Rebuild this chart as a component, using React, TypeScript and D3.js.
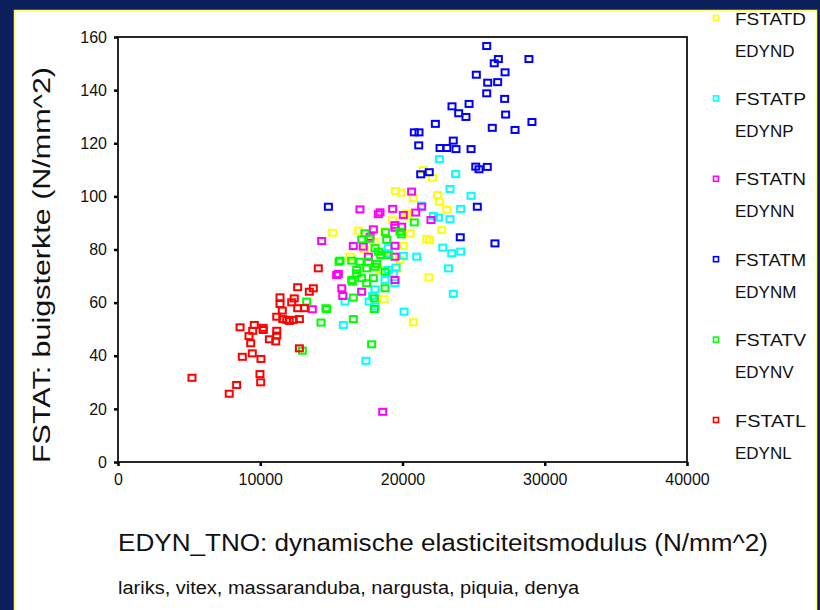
import React, { useEffect, useRef } from "react";
import * as d3 from "d3";

// tick values
const xTicks = [0, 10000, 20000, 30000, 40000];
const yTicks = [0, 20, 40, 60, 80, 100, 120, 140, 160];

// series order as in the legend (D, P, N, M, V, L)
const seriesKeys = ["D", "P", "N", "M", "V", "L"];
const seriesColors = ["#ffff00", "#00ffff", "#ff00ff", "#0000ff", "#00ff00", "#ff0000"];

// [EDYN, FSTAT] pairs
const pointsD = [
  [19500, 102], [19940, 101.4], [20760, 99.3], [21460, 109.9], [22100, 107], [22470, 100.5],
  [22590, 98], [23110, 94.9], [22750, 87.3], [21700, 84], [21900, 83.5], [20530, 86.1],
  [20300, 93.6], [20060, 81.4], [21860, 69.5], [18700, 61.3], [20760, 52.6], [19590, 72.9],
  [15090, 86.3], [16890, 87.1], [18420, 72.3], [18650, 77.9], [19820, 76.1], [16310, 77.3],
  [20410, 92.4], [18770, 86.7], [19300, 91], [17300, 80], [18000, 83],
];

const pointsP = [
  [22590, 114], [23740, 108.4], [23340, 102.8], [24820, 100.2], [24090, 95.3], [22520, 92],
  [23340, 91.4], [22830, 80.7], [23460, 78.6], [24090, 79.2], [21000, 77.3], [20060, 77.6],
  [23230, 72.9], [23570, 63.3], [20110, 56.6], [19360, 71], [19470, 67.3], [17430, 38.1],
  [15840, 51.6], [15960, 60.4], [18070, 65], [17650, 60.4], [18890, 78.6], [19000, 72.3],
  [18770, 68.5], [22170, 92.6], [19540, 73.2], [18070, 58.5], [21350, 96.5], [19000, 80.5],
  [17900, 62.5],
];

const pointsN = [
  [17010, 95.1], [18420, 94], [19310, 95.3], [18300, 93.3], [14320, 83.2], [17950, 87.6],
  [16540, 81.3], [19470, 89.2], [20640, 101.8], [21350, 96.1], [20930, 93.9], [22000, 91.1],
  [19470, 88.2], [19940, 88.6], [19470, 81.4], [17240, 81.1], [15490, 70.8], [17600, 77.3],
  [19470, 68.5], [15730, 65.4], [17130, 64.1], [15800, 62.5], [15370, 70.4], [18610, 18.9],
  [13660, 57.5], [20060, 93], [19470, 77.3], [17720, 84.8],
];

const pointsM = [
  [25920, 156.6], [26740, 151.7], [26450, 150.1], [28890, 151.7], [25190, 145.8], [27210, 146.7],
  [25990, 142.8], [26690, 143], [25920, 138.8], [27180, 136.7], [23480, 133.9], [24680, 134.8],
  [23950, 131.3], [24460, 129.9], [27250, 130.8], [22310, 127.3], [29100, 128], [26310, 125.8],
  [27910, 125], [20830, 124.1], [21160, 124.1], [21140, 119.2], [23570, 121], [22640, 118.2],
  [23110, 118.2], [23760, 117.8], [24820, 117.8], [25150, 111.2], [25380, 110.2], [25960, 111.1],
  [21280, 108.3], [21880, 109.1], [25260, 96.1], [24060, 84.6], [26500, 82.3], [14790, 96.1],
];

const pointsV = [
  [15540, 75.4], [13260, 60.4], [14670, 57.6], [14270, 52.5], [12960, 41.9], [16540, 53.8],
  [17830, 44.3], [16540, 61.9], [18020, 61.6], [18020, 57.6], [16470, 67.9], [17480, 67.3],
  [18770, 65.4], [16780, 71], [18190, 74.5], [17360, 86.1], [17130, 83.8], [17700, 84],
  [18890, 83.6], [19820, 86.7], [20830, 90.2], [18070, 80.5], [18300, 79.2], [15610, 75.8],
  [16430, 75.8], [17010, 75.4], [17600, 75.4], [16780, 72.3], [17480, 72.9], [18070, 73.5],
  [17130, 69.2], [16430, 68.5], [17950, 69.2], [18770, 71.6], [14620, 57.9], [18470, 77.9],
  [19000, 77.9], [19920, 85.7], [18800, 86.5],
];

const pointsL = [
  [14080, 72.9], [12630, 65.8], [13730, 65.4], [13450, 64.1], [11390, 62], [12390, 61.6],
  [12210, 60.1], [11390, 59.5], [12630, 57.9], [13100, 57.9], [11550, 57], [11160, 54.7],
  [11580, 53.8], [12040, 53.1], [12320, 53.5], [12750, 53.8], [11860, 53.5], [8580, 50.7],
  [9580, 51.6], [9470, 49.4], [10210, 49.7], [11160, 49.4], [9210, 47.4], [10640, 46.2],
  [11090, 45.4], [9330, 44.7], [9440, 40.9], [8740, 39.6], [10050, 38.8], [12750, 42.8],
  [5200, 31.7], [9980, 33.1], [10030, 30], [8340, 29], [7820, 25.7], [11160, 47.6],
  [10200, 50.5],
];

const seriesPoints = [pointsD, pointsP, pointsN, pointsM, pointsV, pointsL];

const font = "'Liberation Sans', Arial, sans-serif";

function App() {
  const ref = useRef<SVGSVGElement>(null);

  useEffect(() => {
    const width = 820;
    const height = 610;
    const margin = { top: 37, right: 133, bottom: 148, left: 118 };
    const innerW = width - margin.left - margin.right;
    const innerH = height - margin.top - margin.bottom;

    const svg = d3.select(ref.current);
    svg.selectAll("*").remove();

    // slide background and white panel
    svg.append("rect").attr("width", width).attr("height", height).attr("fill", "#0b1f5c");
    svg
      .append("rect")
      .attr("x", 14.5)
      .attr("y", 10.5)
      .attr("width", 802)
      .attr("height", 620)
      .attr("fill", "#ffffff")
      .attr("stroke", "#ffff70")
      .attr("stroke-width", 1.5);

    const x = d3.scaleLinear().domain([0, 40000]).range([0, innerW]);
    const y = d3.scaleLinear().domain([0, 160]).range([innerH, 0]);

    const g = svg.append("g").attr("transform", `translate(${margin.left},${margin.top})`);

    // axes
    const yAxis = g
      .append("g")
      .call(d3.axisLeft(y).tickValues(yTicks).tickFormat(d3.format("d")).tickSize(4).tickPadding(7));
    const xAxis = g
      .append("g")
      .attr("transform", `translate(0,${innerH})`)
      .call(d3.axisBottom(x).tickValues(xTicks).tickFormat(d3.format("d")).tickSize(4).tickPadding(8));

    [yAxis, xAxis].forEach((ax) => {
      ax.select(".domain").remove();
      ax.attr("font-family", font).attr("font-size", 16);
      ax.selectAll("line").attr("stroke", "#000").attr("stroke-width", 2.5);
      ax.selectAll("text").attr("fill", "#111");
    });

    // plot frame
    g.append("rect")
      .attr("width", innerW)
      .attr("height", innerH)
      .attr("fill", "none")
      .attr("stroke", "#111")
      .attr("stroke-width", 1.8);

    // points
    seriesPoints.forEach((pts, i) => {
      g.append("g")
        .selectAll("rect")
        .data(pts)
        .enter()
        .append("rect")
        .attr("x", (d) => x(d[0]) - 3.5)
        .attr("y", (d) => y(d[1]) - 3)
        .attr("width", 7)
        .attr("height", 6)
        .attr("fill", "none")
        .attr("stroke", seriesColors[i])
        .attr("stroke-width", 2);
    });

    // axis titles
    svg
      .append("text")
      .attr("x", 118)
      .attr("y", 551)
      .attr("font-family", font)
      .attr("font-size", 23)
      .attr("fill", "#111")
      .attr("textLength", 650)
      .attr("lengthAdjust", "spacingAndGlyphs")
      .text("EDYN_TNO: dynamische elasticiteitsmodulus (N/mm^2)");

    svg
      .append("text")
      .attr("transform", "translate(50,463) rotate(-90)")
      .attr("font-family", font)
      .attr("font-size", 23)
      .attr("fill", "#111")
      .attr("textLength", 396)
      .attr("lengthAdjust", "spacingAndGlyphs")
      .text("FSTAT: buigsterkte (N/mm^2)");

    svg
      .append("text")
      .attr("x", 118)
      .attr("y", 594)
      .attr("font-family", font)
      .attr("font-size", 18)
      .attr("fill", "#111")
      .attr("textLength", 461)
      .attr("lengthAdjust", "spacingAndGlyphs")
      .text("lariks, vitex, massaranduba, nargusta, piquia, denya");

    // legend
    const legend = svg.append("g").attr("transform", "translate(716,18)");
    seriesKeys.forEach((k, i) => {
      const item = legend.append("g").attr("transform", `translate(0,${i * 80.4})`);
      item
        .append("rect")
        .attr("x", -2.5)
        .attr("y", -2.5)
        .attr("width", 5)
        .attr("height", 5)
        .attr("fill", "none")
        .attr("stroke", seriesColors[i])
        .attr("stroke-width", 1.6);
      item
        .append("text")
        .attr("x", 19)
        .attr("y", 6.5)
        .attr("font-family", font)
        .attr("font-size", 17)
        .attr("fill", "#111")
        .attr("textLength", 71)
        .attr("lengthAdjust", "spacingAndGlyphs")
        .text("FSTAT" + k);
      item
        .append("text")
        .attr("x", 19)
        .attr("y", 38.5)
        .attr("font-family", font)
        .attr("font-size", 17)
        .attr("fill", "#111")
        .text("EDYN" + k);
    });
  }, []);

  return (
    <div style={{ position: "absolute", left: 0, top: 0 }}>
      <svg ref={ref} width={820} height={610} style={{ display: "block" }} />
    </div>
  );
}

export default App;
